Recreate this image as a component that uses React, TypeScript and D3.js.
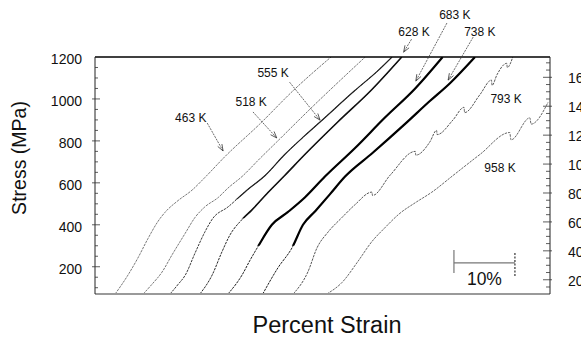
import * as d3 from "d3"
import { useEffect, useRef } from "react"

type Pt = [number, number] // [strain %, stress MPa]

// curves, strain offset as drawn
const K463: Pt[] = [[3.3, 70], [5.4, 160], [7.0, 240], [8.7, 335], [10.3, 415], [11.5, 460], [13.6, 515], [15.9, 565], [18.0, 625], [21.3, 725], [27.0, 880], [32.5, 1040], [38.7, 1200]]
const K518: Pt[] = [[7.9, 70], [9.3, 115], [11.0, 175], [12.6, 255], [14.8, 360], [16.4, 435], [18.0, 485], [20.2, 530], [21.8, 575], [24.1, 630], [27.0, 715], [29.8, 795], [35.2, 950], [44.3, 1200]]
const K555: Pt[] = [[12.3, 70], [13.6, 115], [14.8, 160], [16.4, 265], [18.0, 365], [19.3, 430], [21.8, 485], [24.9, 565], [27.9, 635], [31.1, 735], [34.4, 825], [36.9, 890], [42.6, 1040], [46.4, 1135], [48.7, 1200]]
const K628: Pt[] = [[17.2, 70], [19.2, 160], [20.8, 270], [22.1, 350], [24.1, 425], [25.7, 470], [28.4, 555], [31.1, 635], [34.4, 735], [39.8, 890], [45.4, 1045], [50.3, 1200]]
const K683: Pt[] = [[21.8, 70], [24.1, 160], [25.4, 230], [26.7, 295], [29.0, 400], [31.6, 460], [34.4, 530], [37.7, 630], [42.6, 765], [47.5, 910], [52.5, 1050], [57.0, 1200]]
const K738: Pt[] = [[27.5, 70], [30.0, 195], [32.3, 290], [34.1, 400], [36.1, 465], [38.5, 545], [41.0, 630], [45.4, 740], [50.8, 880], [54.9, 990], [58.2, 1075], [62.3, 1200]]
const K793: Pt[] = [[32.5, 70], [34.9, 175], [36.4, 290], [38.2, 365], [40.5, 435], [42.6, 495], [45.4, 556], [45.5, 540], [48.4, 637], [52.5, 750], [52.6, 732], [54.9, 795], [56.0, 850], [56.1, 830], [58.7, 900], [60.5, 960], [60.6, 935], [63.1, 1020], [65.0, 1090], [65.1, 1065], [65.9, 1115], [67.5, 1170], [67.6, 1150], [68.5, 1200]]
const K958: Pt[] = [[38.0, 70], [40.5, 125], [43.1, 225], [45.4, 320], [47.5, 385], [50.0, 455], [52.5, 505], [55.2, 555], [58.7, 635], [63.1, 735], [68.0, 840], [68.2, 805], [71.3, 910], [71.5, 880], [74.3, 985]]

const SERIES = ["463 K", "518 K", "555 K", "628 K", "683 K", "738 K", "793 K", "958 K"]
const DATA: Pt[][] = [K463, K518, K555, K628, K683, K738, K793, K958]

const MPA_TICKS = [200, 400, 600, 800, 1000, 1200]
const KSI_TICKS = [20, 40, 60, 80, 100, 120, 140, 160]
const MPA_PER_KSI = 6.895

// label centre and arrow (from -> to), in data units
const NOTES: { text: string; at: Pt; from?: Pt; to?: Pt }[] = [
  { text: "463 K", at: [15.7, 909], from: [18.4, 885], to: [21.0, 752] },
  { text: "518 K", at: [25.6, 985], from: [25.9, 938], to: [29.8, 814] },
  { text: "555 K", at: [29.2, 1123], from: [31.9, 1080], to: [36.9, 899] },
  { text: "628 K", at: [52.3, 1319], from: [51.9, 1285], to: [50.6, 1223] },
  { text: "683 K", at: [59.0, 1400], from: [57.7, 1362], to: [52.6, 1085] },
  { text: "738 K", at: [63.1, 1319], from: [62.0, 1295], to: [57.9, 1090] },
  { text: "793 K", at: [67.4, 1003] },
  { text: "958 K", at: [66.4, 671] },
]

// every curve is a thin dotted trace at the foot; some get heavier above `from` MPa
const STYLE: Record<string, { w: number; c: string; from: number }> = {
  "463 K": { w: 0, c: "#666", from: 2000 },
  "518 K": { w: 0, c: "#666", from: 2000 },
  "555 K": { w: 1.2, c: "#222", from: 520 },
  "628 K": { w: 1.6, c: "#111", from: 430 },
  "683 K": { w: 2.2, c: "#000", from: 300 },
  "738 K": { w: 2.2, c: "#000", from: 300 },
  "793 K": { w: 0, c: "#444", from: 2000 },
  "958 K": { w: 0, c: "#555", from: 2000 },
}

const FONT = "'Liberation Sans', Arial, Helvetica, sans-serif"

export default function App() {
  const ref = useRef<SVGSVGElement | null>(null)

  useEffect(() => {
    if (!ref.current) return
    const width = 581
    const height = 337
    const left = 95, right = 550, top = 57, bottom = 294

    const svg = d3.select(ref.current)
    svg.selectAll("*").remove()
    svg.attr("width", width).attr("height", height).attr("viewBox", `0 0 ${width} ${height}`)
    svg.append("rect").attr("width", width).attr("height", height).attr("fill", "#fff")

    const x = d3.scaleLinear().domain([0, 74.6]).range([left, right])
    const y = d3.scaleLinear().domain([70, 1200]).range([bottom, top])

    const defs = svg.append("defs")
    defs.append("clipPath").attr("id", "plot")
      .append("rect").attr("x", left).attr("y", top).attr("width", right - left).attr("height", bottom - top)
    SERIES.forEach((s, i) => {
      const f = Math.min(STYLE[s].from, 1200)
      defs.append("clipPath").attr("id", `hv${i}`)
        .append("rect").attr("x", left).attr("y", top).attr("width", right - left).attr("height", y(f) - top)
    })

    // curves
    const line = d3.line<Pt>().x((d) => x(d[0])).y((d) => y(d[1])).curve(d3.curveMonotoneX)
    const g = svg.append("g").attr("clip-path", "url(#plot)")
    g.selectAll("path.base")
      .data(DATA)
      .join("path")
      .attr("class", "base")
      .attr("d", (d) => line(d))
      .attr("fill", "none")
      .attr("stroke", (_, i) => STYLE[SERIES[i]].c)
      .attr("stroke-width", 0.9)
      .attr("stroke-dasharray", "2.5,1")
    g.selectAll("path.heavy")
      .data(DATA)
      .join("path")
      .attr("class", "heavy")
      .attr("clip-path", (_, i) => `url(#hv${i})`)
      .attr("d", (d) => line(d))
      .attr("fill", "none")
      .attr("stroke", (_, i) => STYLE[SERIES[i]].c)
      .attr("stroke-width", (_, i) => STYLE[SERIES[i]].w)
      .attr("stroke-linejoin", "round")

    // frame
    const frame = svg.append("g")
    frame.append("line").attr("x1", left).attr("x2", right).attr("y1", bottom).attr("y2", bottom)
      .attr("stroke", "#9a9a9a").attr("stroke-width", 2)
    frame.append("line").attr("x1", left).attr("x2", right).attr("y1", top).attr("y2", top)
      .attr("stroke", "#000").attr("stroke-width", 1.6)
    frame.append("line").attr("x1", left).attr("x2", left).attr("y1", top).attr("y2", bottom)
      .attr("stroke", "#222").attr("stroke-width", 1)
    frame.append("line").attr("x1", right).attr("x2", right).attr("y1", top).attr("y2", bottom)
      .attr("stroke", "#222").attr("stroke-width", 1)

    // left axis ticks (MPa)
    const minorMpa = d3.range(100, 1200, 50)
    frame.selectAll(".lt").data(minorMpa).join("line")
      .attr("x1", (d) => (d % 200 === 0 ? left - 3 : left))
      .attr("x2", (d) => (d % 200 === 0 ? left + 5 : left + 3))
      .attr("y1", (d) => y(d)).attr("y2", (d) => y(d))
      .attr("stroke", "#333").attr("stroke-width", 0.8)
    svg.append("g").selectAll("text").data(MPA_TICKS).join("text")
      .attr("x", 82).attr("y", (d) => y(d) + 2).attr("dy", "0.35em")
      .attr("text-anchor", "end").attr("font-family", FONT).attr("font-size", 14).attr("fill", "#111")
      .text((d) => d)

    // right axis ticks (ksi)
    const ksiMinor = d3.range(15, 175, 5)
    frame.selectAll(".rt").data(ksiMinor).join("line")
      .attr("x1", (d) => (d % 20 === 0 ? right - 7 : right - 4))
      .attr("x2", (d) => (d % 20 === 0 ? right + 2 : right))
      .attr("y1", (d) => y(d * MPA_PER_KSI)).attr("y2", (d) => y(d * MPA_PER_KSI))
      .attr("stroke", "#333").attr("stroke-width", 0.8)
    svg.append("g").selectAll("text").data(KSI_TICKS).join("text")
      .attr("x", 568).attr("y", (d) => y(d * MPA_PER_KSI) + 1).attr("dy", "0.35em")
      .attr("font-family", FONT).attr("font-size", 14).attr("fill", "#111")
      .text((d) => d)

    // axis titles
    svg.append("text").attr("x", 327).attr("y", 333).attr("text-anchor", "middle")
      .attr("font-family", FONT).attr("font-size", 23.5).attr("fill", "#111").text("Percent Strain")
    svg.append("text").attr("transform", "translate(26,158) rotate(-90)").attr("text-anchor", "middle")
      .attr("font-family", FONT).attr("font-size", 19.5).attr("fill", "#111").text("Stress (MPa)")

    // labels and arrows
    const notes = svg.append("g")
    NOTES.forEach((n) => {
      notes.append("text").attr("x", x(n.at[0])).attr("y", y(n.at[1])).attr("dy", "0.35em")
        .attr("text-anchor", "middle").attr("font-family", FONT).attr("font-size", 12).attr("fill", "#111")
        .text(n.text)
      if (!n.from || !n.to) return
      const x0 = x(n.from[0]), y0 = y(n.from[1]), x1 = x(n.to[0]), y1 = y(n.to[1])
      notes.append("line").attr("x1", x0).attr("y1", y0).attr("x2", x1).attr("y2", y1)
        .attr("stroke", "#444").attr("stroke-width", 0.8).attr("stroke-dasharray", "2,1")
      const a = Math.atan2(y1 - y0, x1 - x0)
      const head = 7
      ;[-0.35, 0.35].forEach((da) => {
        notes.append("line").attr("x1", x1).attr("y1", y1)
          .attr("x2", x1 - head * Math.cos(a + da)).attr("y2", y1 - head * Math.sin(a + da))
          .attr("stroke", "#333").attr("stroke-width", 0.8)
      })
    })

    // 10% scale bar
    const sb0 = 58.85
    const sbY = 218
    const bar = svg.append("g").attr("stroke", "#777").attr("stroke-width", 1.2)
    bar.append("line").attr("x1", x(sb0)).attr("x2", x(sb0 + 10)).attr("y1", y(sbY)).attr("y2", y(sbY))
    bar.append("line").attr("x1", x(sb0)).attr("x2", x(sb0)).attr("y1", y(sbY) - 13).attr("y2", y(sbY) + 10)
    bar.append("line").attr("x1", x(sb0 + 10)).attr("x2", x(sb0 + 10)).attr("y1", y(sbY) - 10).attr("y2", y(sbY) + 13)
      .attr("stroke-dasharray", "2,1.5").attr("stroke", "#333")
    svg.append("text").attr("x", x(sb0 + 5)).attr("y", 285).attr("text-anchor", "middle")
      .attr("font-family", FONT).attr("font-size", 17.5).attr("fill", "#111").text("10%")
  }, [])

  return (
    <div style={{ position: "absolute", left: 0, top: 0 }}>
      <svg ref={ref} style={{ display: "block" }} />
    </div>
  )
}
